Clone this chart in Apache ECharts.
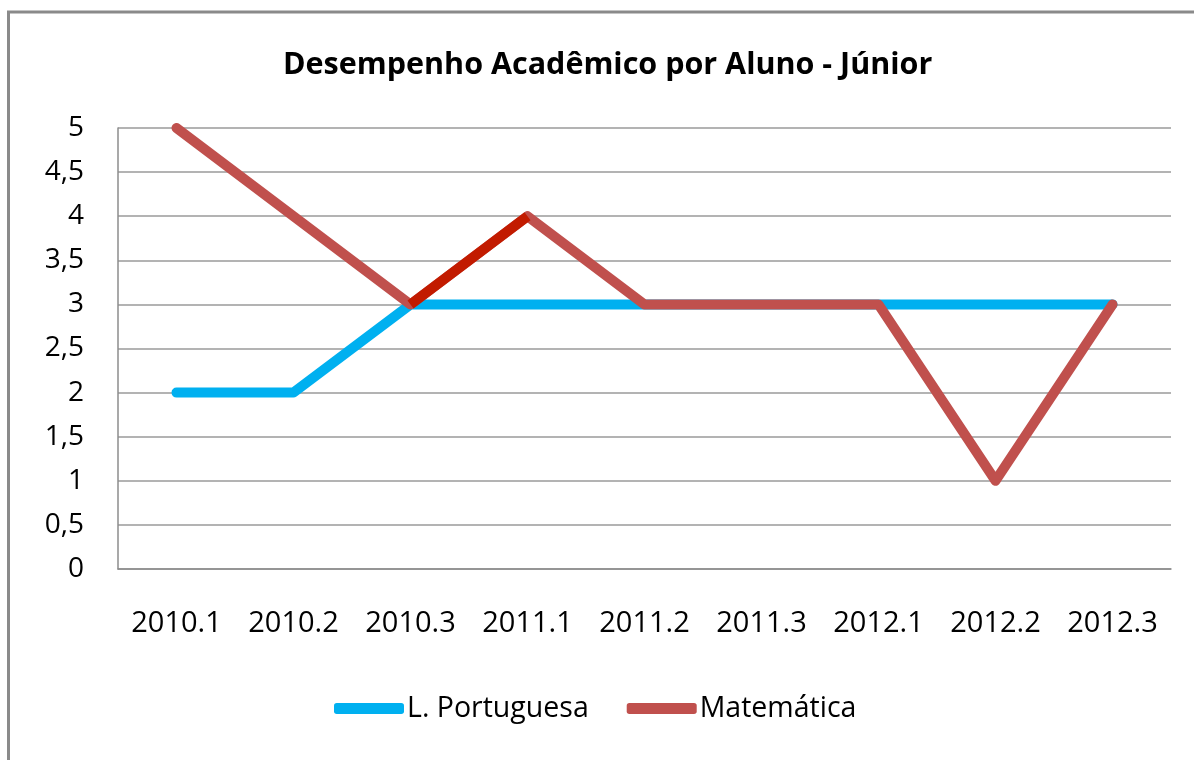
<!DOCTYPE html>
<html>
<head>
<meta charset="utf-8">
<script src="https://cdn.jsdelivr.net/npm/echarts@6/dist/echarts.min.js"></script>
<style>
html,body{margin:0;padding:0;background:#fff;}
#c{width:1194px;height:760px;}
</style>
</head>
<body>
<div id="c"></div>
<script>
const titleText = 'Desempenho Acadêmico por Aluno - Júnior';
const categories = ['2010.1','2010.2','2010.3','2011.1','2011.2','2011.3','2012.1','2012.2','2012.3'];
const portugues = [2, 2, 3, 3, 3, 3, 3, 3, 3];
const matematica = [5, 4, 3, 4, 3, 3, 3, 1, 3];
const matematicaDestaque = [null, null, 3, 4, null, null, null, null, null];
const seriesNames = ['L. Portuguesa', 'Matemática'];

const FONT = '"Open Sans", sans-serif';
const chart = echarts.init(document.getElementById('c'), null, {renderer: 'canvas'});
chart.setOption({
  animation: false,
  backgroundColor: '#ffffff',
  graphic: [{
    type: 'rect', silent: true, z: 100,
    shape: {x: 8.5, y: 12, width: 1400, height: 1000},
    style: {fill: 'none', stroke: '#8a8a8a', lineWidth: 3}
  }],
  title: {
    text: titleText, left: 278, top: 45,
    textStyle: {fontFamily: FONT, fontWeight: 'bold', fontSize: 30.5, color: '#000'}
  },
  legend: {
    data: seriesNames, left: 329, top: 689,
    icon: 'roundRect', itemWidth: 70, itemHeight: 11, itemGap: 38,
    textStyle: {fontFamily: FONT, fontSize: 28.5, color: '#000', padding: [0,0,0,-2]}
  },
  grid: {left: 118, right: 23, top: 128, bottom: 191, containLabel: false},
  xAxis: {
    type: 'category', data: categories, boundaryGap: true,
    axisLine: {show: true, lineStyle: {color: '#8c8c8c', width: 1.5}},
    axisTick: {show: false},
    axisLabel: {fontFamily: FONT, fontSize: 29, color: '#000', margin: 40, lineHeight: 30, interval: 0}
  },
  yAxis: {
    type: 'value', min: 0, max: 5, interval: 0.5,
    axisLine: {show: true, lineStyle: {color: '#8c8c8c', width: 1.5}},
    axisTick: {show: false},
    splitLine: {show: true, lineStyle: {color: '#9a9a9a', width: 1.5}},
    axisLabel: {fontFamily: FONT, fontSize: 28, color: '#000', margin: 34,
      formatter: v => String(v).replace('.', ',')}
  },
  series: [
    {name: seriesNames[0], type: 'line', data: portugues, symbol: 'none',
     color: '#00B0F0', lineStyle: {width: 10, color: '#00B0F0', cap: 'round', join: 'round'}},
    {name: seriesNames[1], type: 'line', data: matematica, symbol: 'none',
     color: '#C0504D', lineStyle: {width: 10, color: '#C0504D', cap: 'round', join: 'round'}},
    {name: 'destaque', type: 'line', data: matematicaDestaque, symbol: 'none',
     color: '#C21B00', lineStyle: {width: 10, color: '#C21B00', cap: 'butt', join: 'round'}}
  ]
});
</script>
</body>
</html>
